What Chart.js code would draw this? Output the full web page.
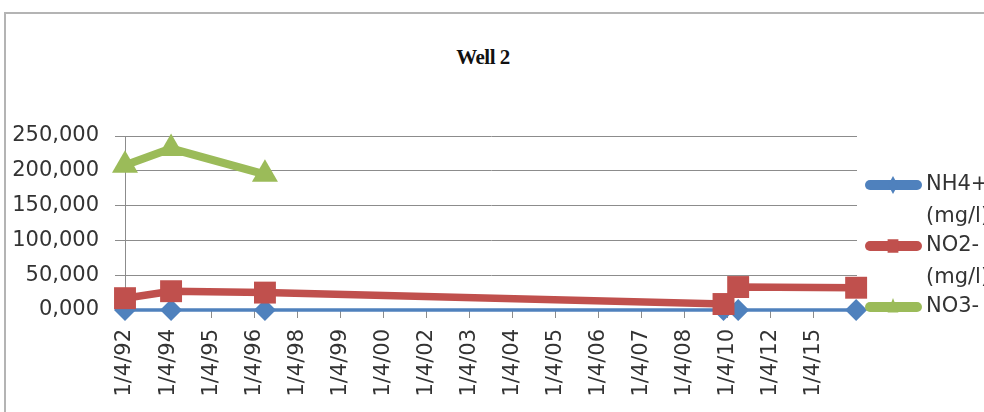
<!DOCTYPE html>
<html>
<head>
<meta charset="utf-8">
<script src="https://cdn.jsdelivr.net/npm/chart.js@4.4.1/dist/chart.umd.min.js"></script>
<style>
  html, body { margin: 0; padding: 0; background: #fff; overflow: hidden; }
  #wrap { position: relative; width: 984px; height: 412px; overflow: hidden; }
  #frame { position: absolute; left: 4px; top: 12px; width: 1100px; height: 500px;
           border-left: 2px solid #b4b4b4; border-top: 2px solid #b4b4b4; }
  #title { position: absolute; left: 383px; width: 200px; top: 45px; text-align: center;
           font: bold 21px "Liberation Serif", serif; color: #111; letter-spacing: -0.5px; }
  canvas { position: absolute; left: 0; top: 0; }
</style>
</head>
<body>
<div id="wrap">
  <div id="frame"></div>
  <div id="title">Well 2</div>
  <canvas id="chart" width="1040" height="412"></canvas>
</div>
<script>
// tick labels along the category axis
const tickLabels = ['1/4/92', '1/4/94', '1/4/95', '1/4/96', '1/4/98', '1/4/99', '1/4/00', '1/4/02',
  '1/4/03', '1/4/04', '1/4/05', '1/4/06', '1/4/07', '1/4/08', '1/4/10', '1/4/12', '1/4/15'];

// where each sample sits along that axis (in tick units)
const samplePos = [0, 1.07, 3.25, 13.9, 14.24, 16.98];

const nh4 = [0, 0, 0, 0, 0, 0];
const no2 = [17, 27, 25, 8.6, 33, 32];
const no3 = [208, 232, 195, null, null, null];

// legend text as it wraps in the original (last item is cut off)
const seriesNames = [['NH4+', '(mg/l)'], ['NO2-', '(mg/l)'], ['NO3-']];
const colors = ['#4f81bd', '#c0504d', '#9bbb59'];

const yTicks = [0, 50, 100, 150, 200, 250];

const FONT = '"DejaVu Sans", sans-serif';

function toPoints(values) {
    return values.map((v, i) => ({ x: samplePos[i], y: v }));
}

function drawMarker(ctx, style, x, y, r) {
    ctx.beginPath();
    if (style === 'rectRot') {
        ctx.moveTo(x, y - r);
        ctx.lineTo(x + r * 0.55, y);
        ctx.lineTo(x, y + r);
        ctx.lineTo(x - r * 0.55, y);
    } else if (style === 'rect') {
        ctx.rect(x - r * 0.6, y - r * 0.75, r * 1.2, r * 1.5);
    } else {
        ctx.moveTo(x, y - r);
        ctx.lineTo(x + r * 0.6, y + r * 0.6);
        ctx.lineTo(x - r * 0.6, y + r * 0.6);
    }
    ctx.closePath();
    ctx.fill();
}

// legend on the right, wrapped over two lines like the original
const sideLegend = {
    id: 'sideLegend',
    afterDraw(chart) {
        const ctx = chart.ctx;
        const area = chart.chartArea;
        const x0 = area.right + 8;
        const styles = ['rectRot', 'rect', 'triangle'];
        ctx.save();
        ctx.font = '21px ' + FONT;
        ctx.textBaseline = 'middle';
        seriesNames.forEach((lines, i) => {
            const y = area.top + 49 + i * 61;
            ctx.strokeStyle = colors[i];
            ctx.lineWidth = 10;
            ctx.lineCap = 'round';
            ctx.beginPath();
            ctx.moveTo(x0 + 5, y);
            ctx.lineTo(x0 + 52, y);
            ctx.stroke();
            ctx.fillStyle = colors[i];
            drawMarker(ctx, styles[i], x0 + 28, y, 9);
            ctx.fillStyle = '#333';
            lines.forEach((t, j) => ctx.fillText(t, x0 + 61, y + j * 32));
        });
        ctx.restore();
    }
};

const ctx = document.getElementById('chart').getContext('2d');

new Chart(ctx, {
    type: 'line',
    data: {
        datasets: [
            {
                label: 'NH4+ (mg/l)',
                data: toPoints(nh4),
                borderColor: colors[0],
                backgroundColor: colors[0],
                borderWidth: 3.5,
                pointStyle: 'rectRot',
                pointRadius: 11,
                pointBorderWidth: 0,
                order: 2,
                clip: false
            },
            {
                label: 'NO2- (mg/l)',
                data: toPoints(no2),
                borderColor: colors[1],
                backgroundColor: colors[1],
                borderWidth: 7.5,
                pointStyle: 'rect',
                pointRadius: 15.5,
                pointBorderWidth: 0,
                order: 1,
                clip: false
            },
            {
                label: 'NO3- (mg/l)',
                data: toPoints(no3),
                borderColor: colors[2],
                backgroundColor: colors[2],
                borderWidth: 8,
                pointStyle: 'triangle',
                pointRadius: 15,
                pointBorderWidth: 0,
                order: 0,
                clip: false,
                spanGaps: false
            }
        ]
    },
    options: {
        responsive: false,
        animation: false,
        events: [],
        layout: { padding: { top: 136, right: 183, left: 0, bottom: 0 } },
        plugins: {
            legend: { display: false },
            title: { display: false },
            tooltip: { enabled: false }
        },
        scales: {
            x: {
                type: 'linear',
                min: 0,
                max: 17,
                afterBuildTicks: (scale) => {
                    scale.ticks = tickLabels.map((t, i) => ({ value: i }));
                },
                afterFit: (scale) => { scale.height = 102; },
                ticks: {
                    stepSize: 1,
                    autoSkip: false,
                    minRotation: 90,
                    maxRotation: 90,
                    padding: 11,
                    color: '#333',
                    font: { family: FONT, size: 21 },
                    callback: (v) => tickLabels[v] ?? ''
                },
                grid: {
                    drawOnChartArea: false,
                    drawTicks: true,
                    tickLength: 8,
                    color: '#8c8c8c'
                },
                border: { color: '#8c8c8c' }
            },
            y: {
                min: 0,
                max: 250,
                afterBuildTicks: (scale) => {
                    scale.ticks = yTicks.map(v => ({ value: v }));
                },
                afterFit: (scale) => { scale.width = 125; },
                ticks: {
                    padding: 16,
                    color: '#333',
                    font: { family: FONT, size: 21 },
                    callback: (v) => v.toFixed(3).replace('.', ',')
                },
                grid: {
                    color: '#8c8c8c',
                    tickLength: 10,
                    lineWidth: 1
                },
                border: { color: '#8c8c8c' }
            }
        }
    },
    plugins: [sideLegend]
});
</script>
</body>
</html>
